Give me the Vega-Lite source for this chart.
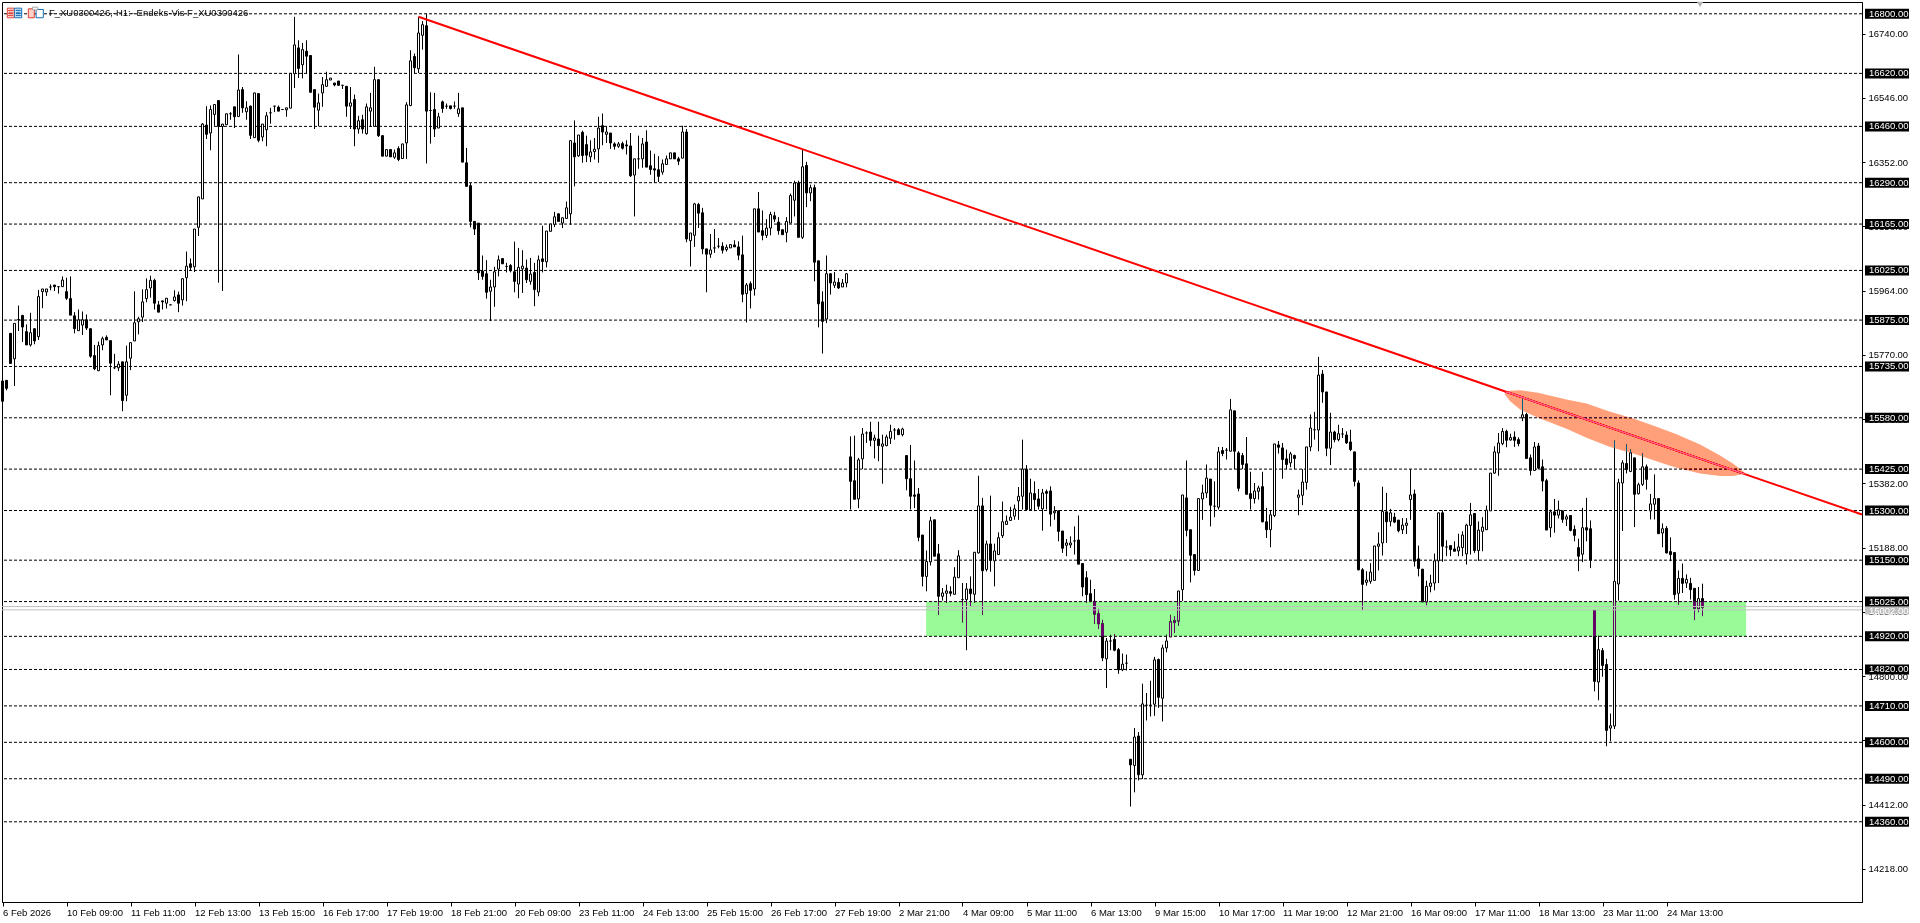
{
  "$schema": "https://vega.github.io/schema/vega-lite/v6.json",
  "width": 1860,
  "height": 900,
  "autosize": {"type": "none"},
  "padding": {"left": 2, "top": 2, "right": 58, "bottom": 21},
  "background": "white",
  "config": {
    "view": {"stroke": "black", "strokeWidth": 1},
    "font": "Liberation Sans",
    "scale": {"continuousPadding": 0},
    "axis": {"title": null, "grid": false}
  },
  "datasets": {
    "levels": [
      {"price": 16800}, {"price": 16620}, {"price": 16460}, {"price": 16290}, {"price": 16165},
      {"price": 16025}, {"price": 15875}, {"price": 15735}, {"price": 15580}, {"price": 15425},
      {"price": 15300}, {"price": 15150}, {"price": 15025}, {"price": 14920}, {"price": 14820},
      {"price": 14710}, {"price": 14600}, {"price": 14490}, {"price": 14360}
    ],
    "trend": [{"n": 104, "price": 16791}, {"n": 464.875, "price": 15288}],
    "zone": [{"n0": 230.9, "n1": 435.9, "top": 15025, "bottom": 14920}],
    "ellipse": [
      {"n": 375.6, "up": 15658, "lo": 15650}, {"n": 376.9, "up": 15662, "lo": 15630},
      {"n": 379.4, "up": 15663, "lo": 15605}, {"n": 383.9, "up": 15656, "lo": 15580},
      {"n": 391, "up": 15635, "lo": 15547}, {"n": 396, "up": 15623, "lo": 15520},
      {"n": 401.9, "up": 15598, "lo": 15492}, {"n": 407.7, "up": 15578, "lo": 15472},
      {"n": 413.5, "up": 15553, "lo": 15449}, {"n": 418.5, "up": 15530, "lo": 15429},
      {"n": 424.4, "up": 15499, "lo": 15412}, {"n": 429.4, "up": 15466, "lo": 15404},
      {"n": 432.7, "up": 15441, "lo": 15404}, {"n": 435.6, "up": 15414, "lo": 15411}
    ],
    "bidask": [{"price": 15010}, {"price": 15000}],
    "lastprice": [{"price": 14998, "label": "15002.00"}],
    "caption": [{"n": 11.6, "price": 16803, "label": "F_XU0300426,-H1:- Endeks-Vis F_XU0300426"}],
    "marker": [{"n": 424.4, "price": 16828}],
    "icons": [
      {"n0": 1.2, "n1": 2.9, "top": 16817, "bottom": 16788, "part": "red"},
      {"n0": 3.05, "n1": 4.8, "top": 16817, "bottom": 16788, "part": "blue"},
      {"n0": 6.45, "n1": 7.95, "top": 16815, "bottom": 16788, "part": "red"},
      {"n0": 8.4, "n1": 10.2, "top": 16813, "bottom": 16788, "part": "blue"},
      {"n0": 7.5, "n1": 8.8, "top": 16820, "bottom": 16812, "part": "grey"},
      {"n0": 1.5, "n1": 2.6, "top": 16811, "bottom": 16809, "part": "red"},
      {"n0": 1.5, "n1": 2.6, "top": 16803, "bottom": 16801, "part": "red"},
      {"n0": 1.5, "n1": 2.6, "top": 16796, "bottom": 16794, "part": "red"},
      {"n0": 3.4, "n1": 4.5, "top": 16811, "bottom": 16809, "part": "blue"},
      {"n0": 3.4, "n1": 4.5, "top": 16803, "bottom": 16801, "part": "blue"},
      {"n0": 3.4, "n1": 4.5, "top": 16796, "bottom": 16794, "part": "blue"}
    ],
    "candles": [
      {"n":0,"o":15691,"h":15691,"l":15630,"c":15630},{"n":1,"o":15693,"h":15693,"l":15663,"c":15669},{"n":2,"o":15835,"h":15835,"l":15744,"c":15744},{"n":3,"o":15758,"h":15865,"l":15676,"c":15865},{"n":4,"o":15876,"h":15919,"l":15842,"c":15877},{"n":5,"o":15889,"h":15891,"l":15809,"c":15854},{"n":6,"o":15840,"h":15862,"l":15800,"c":15800},{"n":7,"o":15800,"h":15897,"l":15795,"c":15837},{"n":8,"o":15849,"h":15849,"l":15802,"c":15812},{"n":9,"o":15825,"h":15966,"l":15815,"c":15946},
      {"n":10,"o":15961,"h":15969,"l":15911,"c":15969},{"n":11,"o":15960,"h":15969,"l":15948,"c":15969},{"n":12,"o":15975,"h":15983,"l":15965,"c":15975},{"n":13,"o":15981,"h":15981,"l":15963,"c":15976},{"n":14,"o":15976,"h":15976,"l":15955,"c":15976},{"n":15,"o":15976,"h":16007,"l":15976,"c":15996},{"n":16,"o":15961,"h":16003,"l":15936,"c":15941},{"n":17,"o":15940,"h":16007,"l":15890,"c":15890},{"n":18,"o":15888,"h":15899,"l":15835,"c":15849},{"n":19,"o":15843,"h":15907,"l":15843,"c":15876},
      {"n":20,"o":15860,"h":15901,"l":15830,"c":15876},{"n":21,"o":15876,"h":15892,"l":15845,"c":15851},{"n":22,"o":15849,"h":15849,"l":15761,"c":15766},{"n":23,"o":15768,"h":15800,"l":15724,"c":15728},{"n":24,"o":15722,"h":15810,"l":15722,"c":15798},{"n":25,"o":15800,"h":15825,"l":15784,"c":15819},{"n":26,"o":15823,"h":15829,"l":15815,"c":15815},{"n":27,"o":15813,"h":15813,"l":15648,"c":15745},{"n":28,"o":15731,"h":15773,"l":15727,"c":15731},{"n":29,"o":15731,"h":15751,"l":15721,"c":15742},
      {"n":30,"o":15749,"h":15749,"l":15600,"c":15632},{"n":31,"o":15648,"h":15798,"l":15630,"c":15749},{"n":32,"o":15760,"h":15807,"l":15724,"c":15807},{"n":33,"o":15812,"h":15962,"l":15812,"c":15867},{"n":34,"o":15870,"h":15885,"l":15832,"c":15879},{"n":35,"o":15884,"h":15968,"l":15869,"c":15930},{"n":36,"o":15940,"h":16001,"l":15929,"c":15967},{"n":37,"o":15972,"h":16009,"l":15943,"c":15995},{"n":38,"o":15995,"h":16000,"l":15907,"c":15926},{"n":39,"o":15921,"h":15933,"l":15899,"c":15899},
      {"n":40,"o":15933,"h":15933,"l":15907,"c":15930},{"n":41,"o":15926,"h":15941,"l":15910,"c":15941},{"n":42,"o":15921,"h":15921,"l":15921,"c":15921},{"n":43,"o":15934,"h":15965,"l":15931,"c":15945},{"n":44,"o":15951,"h":15961,"l":15899,"c":15926},{"n":45,"o":15936,"h":16000,"l":15919,"c":16000},{"n":46,"o":16003,"h":16082,"l":15932,"c":16038},{"n":47,"o":16045,"h":16061,"l":16023,"c":16034},{"n":48,"o":16036,"h":16150,"l":16020,"c":16150},{"n":49,"o":16155,"h":16247,"l":16129,"c":16247},
      {"n":50,"o":16241,"h":16470,"l":16241,"c":16467},{"n":51,"o":16464,"h":16521,"l":16422,"c":16436},{"n":52,"o":16440,"h":16523,"l":16388,"c":16511},{"n":53,"o":16496,"h":16526,"l":16462,"c":16526},{"n":54,"o":16538,"h":16538,"l":15988,"c":16460},{"n":55,"o":16460,"h":16467,"l":15963,"c":16467},{"n":56,"o":16465,"h":16498,"l":16465,"c":16498},{"n":57,"o":16498,"h":16503,"l":16480,"c":16498},{"n":58,"o":16519,"h":16519,"l":16455,"c":16489},{"n":59,"o":16490,"h":16677,"l":16488,"c":16570},
      {"n":60,"o":16571,"h":16579,"l":16501,"c":16516},{"n":61,"o":16504,"h":16536,"l":16480,"c":16516},{"n":62,"o":16521,"h":16523,"l":16422,"c":16433},{"n":63,"o":16426,"h":16561,"l":16426,"c":16561},{"n":64,"o":16559,"h":16559,"l":16412,"c":16418},{"n":65,"o":16428,"h":16467,"l":16415,"c":16467},{"n":66,"o":16450,"h":16503,"l":16400,"c":16492},{"n":67,"o":16501,"h":16516,"l":16468,"c":16501},{"n":68,"o":16521,"h":16521,"l":16503,"c":16521},{"n":69,"o":16518,"h":16523,"l":16506,"c":16506},
      {"n":70,"o":16511,"h":16511,"l":16511,"c":16511},{"n":71,"o":16510,"h":16516,"l":16489,"c":16516},{"n":72,"o":16515,"h":16620,"l":16515,"c":16620},{"n":73,"o":16619,"h":16791,"l":16576,"c":16706},{"n":74,"o":16697,"h":16720,"l":16606,"c":16635},{"n":75,"o":16646,"h":16712,"l":16605,"c":16692},{"n":76,"o":16687,"h":16720,"l":16619,"c":16672},{"n":77,"o":16674,"h":16674,"l":16563,"c":16563},{"n":78,"o":16571,"h":16571,"l":16452,"c":16518},{"n":79,"o":16509,"h":16559,"l":16460,"c":16531},
      {"n":80,"o":16561,"h":16609,"l":16519,"c":16586},{"n":81,"o":16581,"h":16625,"l":16581,"c":16601},{"n":82,"o":16600,"h":16606,"l":16600,"c":16606},{"n":83,"o":16591,"h":16591,"l":16581,"c":16585},{"n":84,"o":16597,"h":16597,"l":16584,"c":16584},{"n":85,"o":16584,"h":16584,"l":16573,"c":16584},{"n":86,"o":16581,"h":16581,"l":16489,"c":16521},{"n":87,"o":16521,"h":16579,"l":16452,"c":16531},{"n":88,"o":16541,"h":16556,"l":16400,"c":16452},{"n":89,"o":16452,"h":16492,"l":16438,"c":16477},
      {"n":90,"o":16480,"h":16495,"l":16438,"c":16452},{"n":91,"o":16438,"h":16529,"l":16435,"c":16519},{"n":92,"o":16506,"h":16561,"l":16460,"c":16516},{"n":93,"o":16460,"h":16640,"l":16460,"c":16601},{"n":94,"o":16601,"h":16601,"l":16428,"c":16432},{"n":95,"o":16432,"h":16432,"l":16370,"c":16370},{"n":96,"o":16370,"h":16390,"l":16370,"c":16390},{"n":97,"o":16390,"h":16390,"l":16368,"c":16368},{"n":98,"o":16367,"h":16390,"l":16362,"c":16380},{"n":99,"o":16393,"h":16400,"l":16355,"c":16360},
      {"n":100,"o":16363,"h":16407,"l":16363,"c":16407},{"n":101,"o":16410,"h":16533,"l":16362,"c":16525},{"n":102,"o":16523,"h":16690,"l":16521,"c":16658},{"n":103,"o":16671,"h":16680,"l":16621,"c":16637},{"n":104,"o":16634,"h":16791,"l":16621,"c":16742},{"n":105,"o":16735,"h":16778,"l":16692,"c":16767},{"n":106,"o":16764,"h":16800,"l":16348,"c":16506},{"n":107,"o":16508,"h":16563,"l":16408,"c":16508},{"n":108,"o":16511,"h":16561,"l":16428,"c":16452},{"n":109,"o":16455,"h":16501,"l":16455,"c":16489},
      {"n":110,"o":16534,"h":16538,"l":16501,"c":16514},{"n":111,"o":16521,"h":16529,"l":16513,"c":16521},{"n":112,"o":16522,"h":16522,"l":16511,"c":16514},{"n":113,"o":16521,"h":16535,"l":16513,"c":16521},{"n":114,"o":16499,"h":16561,"l":16489,"c":16513},{"n":115,"o":16516,"h":16516,"l":16352,"c":16352},{"n":116,"o":16350,"h":16395,"l":16279,"c":16279},{"n":117,"o":16281,"h":16289,"l":16155,"c":16173},{"n":118,"o":16173,"h":16173,"l":16132,"c":16150},{"n":119,"o":16168,"h":16168,"l":15996,"c":16018},
      {"n":120,"o":16023,"h":16070,"l":15997,"c":16007},{"n":121,"o":16015,"h":16056,"l":15940,"c":15959},{"n":122,"o":15962,"h":15997,"l":15872,"c":15975},{"n":123,"o":15975,"h":16036,"l":15915,"c":16021},{"n":124,"o":16029,"h":16070,"l":16007,"c":16057},{"n":125,"o":16061,"h":16061,"l":16045,"c":16045},{"n":126,"o":16037,"h":16048,"l":16019,"c":16037},{"n":127,"o":16040,"h":16044,"l":16019,"c":16024},{"n":128,"o":16021,"h":16112,"l":15959,"c":15992},{"n":129,"o":15984,"h":16093,"l":15941,"c":16034},
      {"n":130,"o":16030,"h":16086,"l":15957,"c":16038},{"n":131,"o":16032,"h":16058,"l":15987,"c":15997},{"n":132,"o":15992,"h":16063,"l":15982,"c":16014},{"n":133,"o":16019,"h":16048,"l":15917,"c":15967},{"n":134,"o":15960,"h":16070,"l":15947,"c":16057},{"n":135,"o":16060,"h":16160,"l":16019,"c":16052},{"n":136,"o":16051,"h":16144,"l":16034,"c":16144},{"n":137,"o":16143,"h":16165,"l":16143,"c":16165},{"n":138,"o":16164,"h":16202,"l":16156,"c":16187},{"n":139,"o":16196,"h":16196,"l":16173,"c":16173},
      {"n":140,"o":16168,"h":16184,"l":16153,"c":16184},{"n":141,"o":16182,"h":16233,"l":16182,"c":16214},{"n":142,"o":16196,"h":16417,"l":16163,"c":16417},{"n":143,"o":16410,"h":16478,"l":16279,"c":16368},{"n":144,"o":16371,"h":16434,"l":16368,"c":16434},{"n":145,"o":16442,"h":16447,"l":16350,"c":16372},{"n":146,"o":16405,"h":16432,"l":16352,"c":16373},{"n":147,"o":16368,"h":16418,"l":16352,"c":16383},{"n":148,"o":16384,"h":16425,"l":16360,"c":16391},{"n":149,"o":16392,"h":16489,"l":16350,"c":16455},
      {"n":150,"o":16462,"h":16499,"l":16403,"c":16443},{"n":151,"o":16436,"h":16460,"l":16410,"c":16443},{"n":152,"o":16440,"h":16440,"l":16392,"c":16410},{"n":153,"o":16407,"h":16412,"l":16390,"c":16400},{"n":154,"o":16400,"h":16413,"l":16395,"c":16407},{"n":155,"o":16408,"h":16414,"l":16390,"c":16394},{"n":156,"o":16404,"h":16418,"l":16375,"c":16401},{"n":157,"o":16401,"h":16440,"l":16307,"c":16311},{"n":158,"o":16313,"h":16362,"l":16188,"c":16362},{"n":159,"o":16362,"h":16432,"l":16332,"c":16362},
      {"n":160,"o":16362,"h":16425,"l":16335,"c":16407},{"n":161,"o":16413,"h":16448,"l":16337,"c":16337},{"n":162,"o":16341,"h":16387,"l":16314,"c":16330},{"n":163,"o":16332,"h":16377,"l":16289,"c":16328},{"n":164,"o":16329,"h":16370,"l":16292,"c":16309},{"n":165,"o":16322,"h":16360,"l":16314,"c":16347},{"n":166,"o":16345,"h":16372,"l":16345,"c":16362},{"n":167,"o":16362,"h":16380,"l":16362,"c":16380},{"n":168,"o":16380,"h":16380,"l":16362,"c":16362},{"n":169,"o":16362,"h":16368,"l":16343,"c":16355},
      {"n":170,"o":16364,"h":16462,"l":16364,"c":16443},{"n":171,"o":16443,"h":16452,"l":16110,"c":16120},{"n":172,"o":16115,"h":16138,"l":16037,"c":16138},{"n":173,"o":16131,"h":16229,"l":16096,"c":16226},{"n":174,"o":16224,"h":16229,"l":16153,"c":16198},{"n":175,"o":16199,"h":16214,"l":16074,"c":16090},{"n":176,"o":16090,"h":16090,"l":15959,"c":16074},{"n":177,"o":16074,"h":16135,"l":16063,"c":16087},{"n":178,"o":16093,"h":16150,"l":16078,"c":16093},{"n":179,"o":16098,"h":16123,"l":16092,"c":16098},
      {"n":180,"o":16098,"h":16110,"l":16076,"c":16086},{"n":181,"o":16088,"h":16103,"l":16082,"c":16095},{"n":182,"o":16093,"h":16103,"l":16093,"c":16103},{"n":183,"o":16102,"h":16116,"l":16096,"c":16096},{"n":184,"o":16096,"h":16113,"l":16056,"c":16071},{"n":185,"o":16072,"h":16130,"l":15929,"c":15953},{"n":186,"o":15955,"h":15987,"l":15868,"c":15981},{"n":187,"o":15985,"h":15992,"l":15910,"c":15965},{"n":188,"o":15969,"h":16211,"l":15949,"c":16211},{"n":189,"o":16211,"h":16262,"l":16141,"c":16141},
      {"n":190,"o":16145,"h":16206,"l":16116,"c":16131},{"n":191,"o":16131,"h":16180,"l":16123,"c":16153},{"n":192,"o":16153,"h":16202,"l":16131,"c":16194},{"n":193,"o":16190,"h":16202,"l":16171,"c":16180},{"n":194,"o":16171,"h":16186,"l":16133,"c":16145},{"n":195,"o":16148,"h":16148,"l":16133,"c":16133},{"n":196,"o":16140,"h":16186,"l":16110,"c":16173},{"n":197,"o":16168,"h":16257,"l":16168,"c":16251},{"n":198,"o":16237,"h":16296,"l":16188,"c":16289},{"n":199,"o":16289,"h":16296,"l":16125,"c":16125},
      {"n":200,"o":16125,"h":16390,"l":16120,"c":16338},{"n":201,"o":16342,"h":16353,"l":16216,"c":16259},{"n":202,"o":16259,"h":16284,"l":16234,"c":16275},{"n":203,"o":16275,"h":16284,"l":15992,"c":16050},{"n":204,"o":16054,"h":16054,"l":15853,"c":15924},{"n":205,"o":15930,"h":15962,"l":15774,"c":15871},{"n":206,"o":15878,"h":16070,"l":15866,"c":16015},{"n":207,"o":16015,"h":16017,"l":15952,"c":15987},{"n":208,"o":15980,"h":16020,"l":15972,"c":15990},{"n":209,"o":15989,"h":16002,"l":15969,"c":15972},
      {"n":210,"o":15975,"h":15999,"l":15975,"c":15987},{"n":211,"o":15987,"h":16017,"l":15974,"c":16015},{"n":212,"o":15462,"h":15524,"l":15303,"c":15388},{"n":213,"o":15390,"h":15526,"l":15333,"c":15334},{"n":214,"o":15335,"h":15459,"l":15307,"c":15453},{"n":215,"o":15456,"h":15549,"l":15425,"c":15531},{"n":216,"o":15534,"h":15539,"l":15504,"c":15534},{"n":217,"o":15537,"h":15568,"l":15494,"c":15512},{"n":218,"o":15512,"h":15529,"l":15457,"c":15519},{"n":219,"o":15516,"h":15568,"l":15449,"c":15496},
      {"n":220,"o":15494,"h":15529,"l":15381,"c":15501},{"n":221,"o":15496,"h":15529,"l":15494,"c":15522},{"n":222,"o":15518,"h":15559,"l":15501,"c":15539},{"n":223,"o":15543,"h":15549,"l":15514,"c":15543},{"n":224,"o":15544,"h":15549,"l":15529,"c":15529},{"n":225,"o":15529,"h":15550,"l":15524,"c":15546},{"n":226,"o":15466,"h":15466,"l":15361,"c":15396},{"n":227,"o":15396,"h":15498,"l":15303,"c":15343},{"n":228,"o":15347,"h":15451,"l":15307,"c":15343},{"n":229,"o":15350,"h":15368,"l":15207,"c":15219},
      {"n":230,"o":15226,"h":15226,"l":15071,"c":15101},{"n":231,"o":15101,"h":15179,"l":15056,"c":15146},{"n":232,"o":15145,"h":15281,"l":15134,"c":15269},{"n":233,"o":15272,"h":15272,"l":15162,"c":15162},{"n":234,"o":15169,"h":15199,"l":14985,"c":15041},{"n":235,"o":15041,"h":15066,"l":15028,"c":15051},{"n":236,"o":15050,"h":15076,"l":15021,"c":15057},{"n":237,"o":15055,"h":15071,"l":15041,"c":15050},{"n":238,"o":15047,"h":15129,"l":15047,"c":15099},{"n":239,"o":15097,"h":15180,"l":15097,"c":15163},
      {"n":240,"o":15031,"h":15081,"l":14962,"c":15031},{"n":241,"o":15031,"h":15081,"l":14878,"c":15063},{"n":242,"o":15063,"h":15101,"l":15011,"c":15049},{"n":243,"o":15047,"h":15174,"l":15021,"c":15174},{"n":244,"o":15172,"h":15405,"l":15170,"c":15314},{"n":245,"o":15314,"h":15338,"l":14985,"c":15118},{"n":246,"o":15122,"h":15209,"l":15116,"c":15199},{"n":247,"o":15199,"h":15345,"l":15115,"c":15150},{"n":248,"o":15148,"h":15200,"l":15071,"c":15178},{"n":249,"o":15167,"h":15234,"l":15167,"c":15218},
      {"n":250,"o":15224,"h":15327,"l":15217,"c":15266},{"n":251,"o":15258,"h":15285,"l":15258,"c":15268},{"n":252,"o":15270,"h":15311,"l":15270,"c":15280},{"n":253,"o":15283,"h":15318,"l":15272,"c":15305},{"n":254,"o":15329,"h":15371,"l":15272,"c":15343},{"n":255,"o":15343,"h":15514,"l":15303,"c":15425},{"n":256,"o":15425,"h":15437,"l":15303,"c":15303},{"n":257,"o":15303,"h":15396,"l":15303,"c":15353},{"n":258,"o":15351,"h":15388,"l":15298,"c":15333},{"n":259,"o":15335,"h":15365,"l":15303,"c":15313},
      {"n":260,"o":15305,"h":15365,"l":15239,"c":15353},{"n":261,"o":15357,"h":15363,"l":15303,"c":15352},{"n":262,"o":15359,"h":15373,"l":15252,"c":15289},{"n":263,"o":15293,"h":15313,"l":15272,"c":15298},{"n":264,"o":15299,"h":15299,"l":15207,"c":15237},{"n":265,"o":15238,"h":15238,"l":15172,"c":15186},{"n":266,"o":15195,"h":15214,"l":15162,"c":15202},{"n":267,"o":15196,"h":15222,"l":15187,"c":15202},{"n":268,"o":15208,"h":15252,"l":15167,"c":15208},{"n":269,"o":15211,"h":15285,"l":15138,"c":15138},
      {"n":270,"o":15140,"h":15140,"l":15041,"c":15069},{"n":271,"o":15097,"h":15117,"l":15021,"c":15046},{"n":272,"o":15049,"h":15091,"l":15025,"c":15025},{"n":273,"o":15026,"h":15063,"l":14958,"c":14987},{"n":274,"o":14988,"h":15003,"l":14942,"c":14958},{"n":275,"o":14958,"h":14970,"l":14845,"c":14855},{"n":276,"o":14852,"h":14915,"l":14764,"c":14906},{"n":277,"o":14906,"h":14925,"l":14878,"c":14906},{"n":278,"o":14911,"h":14927,"l":14875,"c":14878},{"n":279,"o":14880,"h":14885,"l":14807,"c":14819},
      {"n":280,"o":14819,"h":14868,"l":14815,"c":14836},{"n":281,"o":14839,"h":14865,"l":14817,"c":14839},{"n":282,"o":14549,"h":14549,"l":14406,"c":14532},{"n":283,"o":14530,"h":14643,"l":14449,"c":14616},{"n":284,"o":14619,"h":14631,"l":14485,"c":14502},{"n":285,"o":14502,"h":14777,"l":14489,"c":14716},{"n":286,"o":14712,"h":14749,"l":14666,"c":14712},{"n":287,"o":14712,"h":14786,"l":14678,"c":14712},{"n":288,"o":14715,"h":14858,"l":14680,"c":14849},{"n":289,"o":14850,"h":14853,"l":14704,"c":14736},
      {"n":290,"o":14733,"h":14895,"l":14663,"c":14885},{"n":291,"o":14885,"h":14925,"l":14872,"c":14906},{"n":292,"o":14918,"h":14985,"l":14918,"c":14964},{"n":293,"o":14967,"h":14980,"l":14930,"c":14962},{"n":294,"o":14966,"h":15057,"l":14952,"c":15057},{"n":295,"o":15061,"h":15347,"l":15027,"c":15347},{"n":296,"o":15338,"h":15451,"l":15222,"c":15240},{"n":297,"o":15242,"h":15242,"l":15083,"c":15165},{"n":298,"o":15167,"h":15167,"l":15104,"c":15119},{"n":299,"o":15119,"h":15336,"l":15119,"c":15336},
      {"n":300,"o":15335,"h":15378,"l":15272,"c":15353},{"n":301,"o":15353,"h":15439,"l":15338,"c":15398},{"n":302,"o":15395,"h":15395,"l":15252,"c":15316},{"n":303,"o":15313,"h":15388,"l":15280,"c":15313},{"n":304,"o":15310,"h":15492,"l":15303,"c":15477},{"n":305,"o":15481,"h":15492,"l":15464,"c":15472},{"n":306,"o":15482,"h":15489,"l":15454,"c":15482},{"n":307,"o":15479,"h":15637,"l":15479,"c":15604},{"n":308,"o":15601,"h":15601,"l":15425,"c":15479},{"n":309,"o":15474,"h":15479,"l":15358,"c":15367},
      {"n":310,"o":15466,"h":15474,"l":15425,"c":15439},{"n":311,"o":15441,"h":15522,"l":15349,"c":15349},{"n":312,"o":15351,"h":15417,"l":15303,"c":15336},{"n":313,"o":15336,"h":15383,"l":15321,"c":15359},{"n":314,"o":15358,"h":15375,"l":15333,"c":15368},{"n":315,"o":15372,"h":15417,"l":15264,"c":15266},{"n":316,"o":15266,"h":15308,"l":15217,"c":15242},{"n":317,"o":15242,"h":15299,"l":15189,"c":15287},{"n":318,"o":15285,"h":15501,"l":15280,"c":15501},{"n":319,"o":15498,"h":15510,"l":15472,"c":15491},
      {"n":320,"o":15489,"h":15504,"l":15396,"c":15454},{"n":321,"o":15456,"h":15484,"l":15425,"c":15439},{"n":322,"o":15444,"h":15477,"l":15431,"c":15471},{"n":323,"o":15466,"h":15469,"l":15425,"c":15457},{"n":324,"o":15340,"h":15363,"l":15286,"c":15347},{"n":325,"o":15346,"h":15425,"l":15316,"c":15386},{"n":326,"o":15385,"h":15492,"l":15363,"c":15492},{"n":327,"o":15492,"h":15590,"l":15479,"c":15549},{"n":328,"o":15544,"h":15598,"l":15514,"c":15544},{"n":329,"o":15543,"h":15764,"l":15479,"c":15709},
      {"n":330,"o":15712,"h":15724,"l":15625,"c":15658},{"n":331,"o":15658,"h":15658,"l":15464,"c":15488},{"n":332,"o":15488,"h":15595,"l":15437,"c":15537},{"n":333,"o":15537,"h":15541,"l":15506,"c":15514},{"n":334,"o":15514,"h":15559,"l":15509,"c":15532},{"n":335,"o":15531,"h":15549,"l":15519,"c":15531},{"n":336,"o":15528,"h":15539,"l":15501,"c":15504},{"n":337,"o":15507,"h":15544,"l":15479,"c":15484},{"n":338,"o":15477,"h":15477,"l":15373,"c":15388},{"n":339,"o":15383,"h":15391,"l":15119,"c":15121},
      {"n":340,"o":15121,"h":15126,"l":14999,"c":15077},{"n":341,"o":15083,"h":15117,"l":15073,"c":15090},{"n":342,"o":15086,"h":15141,"l":15079,"c":15114},{"n":343,"o":15089,"h":15193,"l":15089,"c":15193},{"n":344,"o":15192,"h":15234,"l":15119,"c":15199},{"n":345,"o":15202,"h":15372,"l":15164,"c":15297},{"n":346,"o":15296,"h":15353,"l":15202,"c":15266},{"n":347,"o":15267,"h":15305,"l":15252,"c":15293},{"n":348,"o":15280,"h":15293,"l":15262,"c":15265},{"n":349,"o":15271,"h":15271,"l":15234,"c":15239},
      {"n":350,"o":15242,"h":15277,"l":15229,"c":15256},{"n":351,"o":15255,"h":15277,"l":15229,"c":15262},{"n":352,"o":15333,"h":15425,"l":15272,"c":15347},{"n":353,"o":15350,"h":15363,"l":15131,"c":15147},{"n":354,"o":15154,"h":15194,"l":15101,"c":15125},{"n":355,"o":15123,"h":15123,"l":15024,"c":15024},{"n":356,"o":15024,"h":15088,"l":15014,"c":15071},{"n":357,"o":15071,"h":15106,"l":15053,"c":15081},{"n":358,"o":15081,"h":15170,"l":15059,"c":15148},{"n":359,"o":15148,"h":15293,"l":15081,"c":15293},
      {"n":360,"o":15293,"h":15301,"l":15145,"c":15192},{"n":361,"o":15190,"h":15210,"l":15162,"c":15190},{"n":362,"o":15194,"h":15194,"l":15162,"c":15182},{"n":363,"o":15184,"h":15207,"l":15177,"c":15177},{"n":364,"o":15178,"h":15230,"l":15162,"c":15190},{"n":365,"o":15188,"h":15237,"l":15162,"c":15226},{"n":366,"o":15169,"h":15260,"l":15137,"c":15256},{"n":367,"o":15255,"h":15323,"l":15167,"c":15287},{"n":368,"o":15291,"h":15291,"l":15172,"c":15179},{"n":369,"o":15179,"h":15267,"l":15148,"c":15241},
      {"n":370,"o":15237,"h":15280,"l":15177,"c":15250},{"n":371,"o":15242,"h":15315,"l":15242,"c":15301},{"n":372,"o":15299,"h":15413,"l":15299,"c":15413},{"n":373,"o":15413,"h":15494,"l":15411,"c":15477},{"n":374,"o":15474,"h":15534,"l":15405,"c":15504},{"n":375,"o":15502,"h":15549,"l":15497,"c":15539},{"n":376,"o":15539,"h":15544,"l":15491,"c":15512},{"n":377,"o":15513,"h":15532,"l":15511,"c":15520},{"n":378,"o":15522,"h":15539,"l":15492,"c":15512},{"n":379,"o":15514,"h":15521,"l":15494,"c":15502},
      {"n":380,"o":15580,"h":15638,"l":15570,"c":15589},{"n":381,"o":15590,"h":15595,"l":15457,"c":15457},{"n":382,"o":15459,"h":15469,"l":15406,"c":15421},{"n":383,"o":15421,"h":15507,"l":15421,"c":15492},{"n":384,"o":15495,"h":15504,"l":15424,"c":15428},{"n":385,"o":15432,"h":15454,"l":15358,"c":15389},{"n":386,"o":15390,"h":15396,"l":15241,"c":15241},{"n":387,"o":15248,"h":15303,"l":15219,"c":15296},{"n":388,"o":15296,"h":15335,"l":15233,"c":15286},{"n":389,"o":15286,"h":15330,"l":15276,"c":15302},
      {"n":390,"o":15299,"h":15299,"l":15263,"c":15273},{"n":391,"o":15274,"h":15288,"l":15253,"c":15281},{"n":392,"o":15285,"h":15285,"l":15237,"c":15240},{"n":393,"o":15243,"h":15255,"l":15207,"c":15225},{"n":394,"o":15188,"h":15215,"l":15117,"c":15162},{"n":395,"o":15168,"h":15308,"l":15144,"c":15248},{"n":396,"o":15248,"h":15338,"l":15207,"c":15241},{"n":397,"o":15245,"h":15270,"l":15126,"c":15150},{"n":398,"o":14998,"h":14998,"l":14754,"c":14784},{"n":399,"o":14782,"h":14922,"l":14727,"c":14880},
      {"n":400,"o":14877,"h":14885,"l":14798,"c":14832},{"n":401,"o":14835,"h":14852,"l":14588,"c":14636},{"n":402,"o":14643,"h":14687,"l":14603,"c":14650},{"n":403,"o":14649,"h":15511,"l":14640,"c":15086},{"n":404,"o":15078,"h":15396,"l":15028,"c":15384},{"n":405,"o":15383,"h":15452,"l":15238,"c":15444},{"n":406,"o":15442,"h":15499,"l":15412,"c":15424},{"n":407,"o":15418,"h":15484,"l":15416,"c":15474},{"n":408,"o":15459,"h":15459,"l":15250,"c":15349},{"n":409,"o":15351,"h":15384,"l":15348,"c":15378},
      {"n":410,"o":15379,"h":15472,"l":15374,"c":15432},{"n":411,"o":15432,"h":15439,"l":15363,"c":15394},{"n":412,"o":15299,"h":15350,"l":15273,"c":15320},{"n":413,"o":15319,"h":15409,"l":15273,"c":15336},{"n":414,"o":15336,"h":15336,"l":15230,"c":15230},{"n":415,"o":15232,"h":15261,"l":15189,"c":15245},{"n":416,"o":15246,"h":15253,"l":15170,"c":15172},{"n":417,"o":15176,"h":15219,"l":15147,"c":15167},{"n":418,"o":15173,"h":15173,"l":15031,"c":15046},{"n":419,"o":15050,"h":15119,"l":15016,"c":15095},
      {"n":420,"o":15095,"h":15140,"l":15051,"c":15080},{"n":421,"o":15081,"h":15107,"l":15066,"c":15092},{"n":422,"o":15080,"h":15097,"l":15031,"c":15061},{"n":423,"o":15065,"h":15065,"l":14969,"c":15005},{"n":424,"o":15003,"h":15069,"l":14993,"c":15034},{"n":425,"o":15034,"h":15079,"l":14981,"c":15008}
    ]
  },
  "layer": [
    {
      "data": {"name": "levels"},
      "mark": {"type": "rule", "stroke": "black", "strokeWidth": 1, "strokeDash": [3, 2]},
      "encoding": {
        "y": {
          "field": "price",
          "type": "quantitative",
          "scale": {"domain": [14117.8, 16835.6]},
          "axis": {
            "orient": "right",
            "values": [16740, 16643, 16546, 16449, 16352, 16255, 16158, 16061, 15964, 15867, 15770, 15673, 15576, 15479, 15382, 15285, 15188, 15091, 14994, 14897, 14800, 14703, 14606, 14509, 14412, 14315, 14218],
            "format": ".2f",
            "domainColor": "black",
            "tickColor": "black",
            "tickSize": 3,
            "labelPadding": 3,
            "labelColor": "black",
            "labelFontSize": 9.5,
            "labelOverlap": false,
            "labelBound": false,
            "labelFlush": false
          }
        }
      }
    },
    {
      "data": {"name": "candles"},
      "mark": {"type": "rule", "stroke": "black", "strokeWidth": 1},
      "encoding": {
        "x": {
          "field": "n",
          "type": "quantitative",
          "scale": {"domain": [-0.125, 464.875]},
          "axis": {
            "orient": "bottom",
            "values": [0, 16, 32, 48, 64, 80, 96, 112, 128, 144, 160, 176, 192, 208, 224, 240, 256, 272, 288, 304, 320, 336, 352, 368, 384, 400, 416],
            "labelExpr": "['6 Feb 2026','10 Feb 09:00','11 Feb 11:00','12 Feb 13:00','13 Feb 15:00','16 Feb 17:00','17 Feb 19:00','18 Feb 21:00','20 Feb 09:00','23 Feb 11:00','24 Feb 13:00','25 Feb 15:00','26 Feb 17:00','27 Feb 19:00','2 Mar 21:00','4 Mar 09:00','5 Mar 11:00','6 Mar 13:00','9 Mar 15:00','10 Mar 17:00','11 Mar 19:00','12 Mar 21:00','16 Mar 09:00','17 Mar 11:00','18 Mar 13:00','23 Mar 11:00','24 Mar 13:00'][datum.value / 16]",
            "domainColor": "black",
            "tickColor": "black",
            "tickSize": 4,
            "labelPadding": 1,
            "labelAlign": "left",
            "labelColor": "black",
            "labelFontSize": 9.5,
            "labelOverlap": false,
            "labelBound": false,
            "labelFlush": false
          }
        },
        "y": {"field": "l", "type": "quantitative", "scale": {"domain": [14117.8, 16835.6]}},
        "y2": {"field": "h"}
      }
    },
    {
      "data": {"name": "candles"},
      "mark": {"type": "bar", "size": 2, "stroke": "black", "strokeWidth": 1},
      "encoding": {
        "x": {"field": "n", "type": "quantitative", "scale": {"domain": [-0.125, 464.875]}},
        "y": {"field": "o", "type": "quantitative", "scale": {"domain": [14117.8, 16835.6]}},
        "y2": {"field": "c"},
        "fill": {"condition": {"test": "datum.c < datum.o", "value": "black"}, "value": "white"}
      }
    },
    {
      "data": {"name": "trend"},
      "mark": {"type": "line", "stroke": "#ff0000", "strokeWidth": 2},
      "encoding": {
        "x": {"field": "n", "type": "quantitative", "scale": {"domain": [-0.125, 464.875]}},
        "y": {"field": "price", "type": "quantitative", "scale": {"domain": [14117.8, 16835.6]}}
      }
    },
    {
      "data": {"name": "zone"},
      "mark": {"type": "rect", "fill": "#670467", "blend": "difference"},
      "encoding": {
        "x": {"field": "n0", "type": "quantitative", "scale": {"domain": [-0.125, 464.875]}},
        "x2": {"field": "n1"},
        "y": {"field": "top", "type": "quantitative", "scale": {"domain": [14117.8, 16835.6]}},
        "y2": {"field": "bottom"}
      }
    },
    {
      "data": {"name": "ellipse"},
      "mark": {"type": "area", "fill": "#005f85", "blend": "difference"},
      "encoding": {
        "x": {"field": "n", "type": "quantitative", "scale": {"domain": [-0.125, 464.875]}},
        "y": {"field": "up", "type": "quantitative", "scale": {"domain": [14117.8, 16835.6]}},
        "y2": {"field": "lo"}
      }
    },
    {
      "data": {"name": "bidask"},
      "mark": {"type": "rule", "stroke": "#c0c0c0", "strokeWidth": 1},
      "encoding": {
        "y": {"field": "price", "type": "quantitative", "scale": {"domain": [14117.8, 16835.6]}}
      }
    },
    {
      "data": {"name": "lastprice"},
      "mark": {"type": "rule", "stroke": "#c0c0c0", "strokeWidth": 8},
      "encoding": {
        "x": {"datum": 465.625, "type": "quantitative", "scale": {"domain": [-0.125, 464.875]}},
        "x2": {"datum": 476.625},
        "y": {"field": "price", "type": "quantitative", "scale": {"domain": [14117.8, 16835.6]}}
      }
    },
    {
      "data": {"name": "lastprice"},
      "mark": {"type": "text", "align": "left", "baseline": "middle", "fill": "white", "fontSize": 9.5},
      "encoding": {
        "x": {"datum": 466.6, "type": "quantitative", "scale": {"domain": [-0.125, 464.875]}},
        "y": {"field": "price", "type": "quantitative", "scale": {"domain": [14117.8, 16835.6]}},
        "text": {"field": "label"}
      }
    },
    {
      "data": {"name": "levels"},
      "mark": {"type": "rule", "stroke": "black", "strokeWidth": 10},
      "encoding": {
        "x": {"datum": 465.625, "type": "quantitative", "scale": {"domain": [-0.125, 464.875]}},
        "x2": {"datum": 476.625},
        "y": {"field": "price", "type": "quantitative", "scale": {"domain": [14117.8, 16835.6]}}
      }
    },
    {
      "data": {"name": "levels"},
      "mark": {"type": "text", "align": "left", "baseline": "middle", "fill": "white", "fontSize": 9.5},
      "encoding": {
        "x": {"datum": 466.6, "type": "quantitative", "scale": {"domain": [-0.125, 464.875]}},
        "y": {"field": "price", "type": "quantitative", "scale": {"domain": [14117.8, 16835.6]}},
        "text": {"field": "price", "type": "quantitative", "format": ".2f"}
      }
    },
    {
      "data": {"name": "caption"},
      "mark": {"type": "text", "align": "left", "baseline": "middle", "fill": "black", "fontSize": 9.5},
      "encoding": {
        "x": {"field": "n", "type": "quantitative", "scale": {"domain": [-0.125, 464.875]}},
        "y": {"field": "price", "type": "quantitative", "scale": {"domain": [14117.8, 16835.6]}},
        "text": {"field": "label"}
      }
    },
    {
      "data": {"name": "icons"},
      "mark": {"type": "rect", "strokeWidth": 1},
      "encoding": {
        "x": {"field": "n0", "type": "quantitative", "scale": {"domain": [-0.125, 464.875]}},
        "x2": {"field": "n1"},
        "y": {"field": "top", "type": "quantitative", "scale": {"domain": [14117.8, 16835.6]}},
        "y2": {"field": "bottom"},
        "stroke": {"field": "part", "type": "nominal", "scale": {"domain": ["red", "blue", "grey"], "range": ["#e03c31", "#0f6cb5", "#a9a9a9"]}, "legend": null},
        "fill": {"value": "#ffffff", "condition": {"test": "datum.n0 > 6 && datum.part == 'red'", "value": "#ffd0c8"}}
      }
    },
    {
      "data": {"name": "marker"},
      "mark": {"type": "point", "shape": "triangle-down", "filled": true, "size": 40, "fill": "#b5b5b5", "opacity": 1},
      "encoding": {
        "x": {"field": "n", "type": "quantitative", "scale": {"domain": [-0.125, 464.875]}},
        "y": {"field": "price", "type": "quantitative", "scale": {"domain": [14117.8, 16835.6]}}
      }
    }
  ]
}
